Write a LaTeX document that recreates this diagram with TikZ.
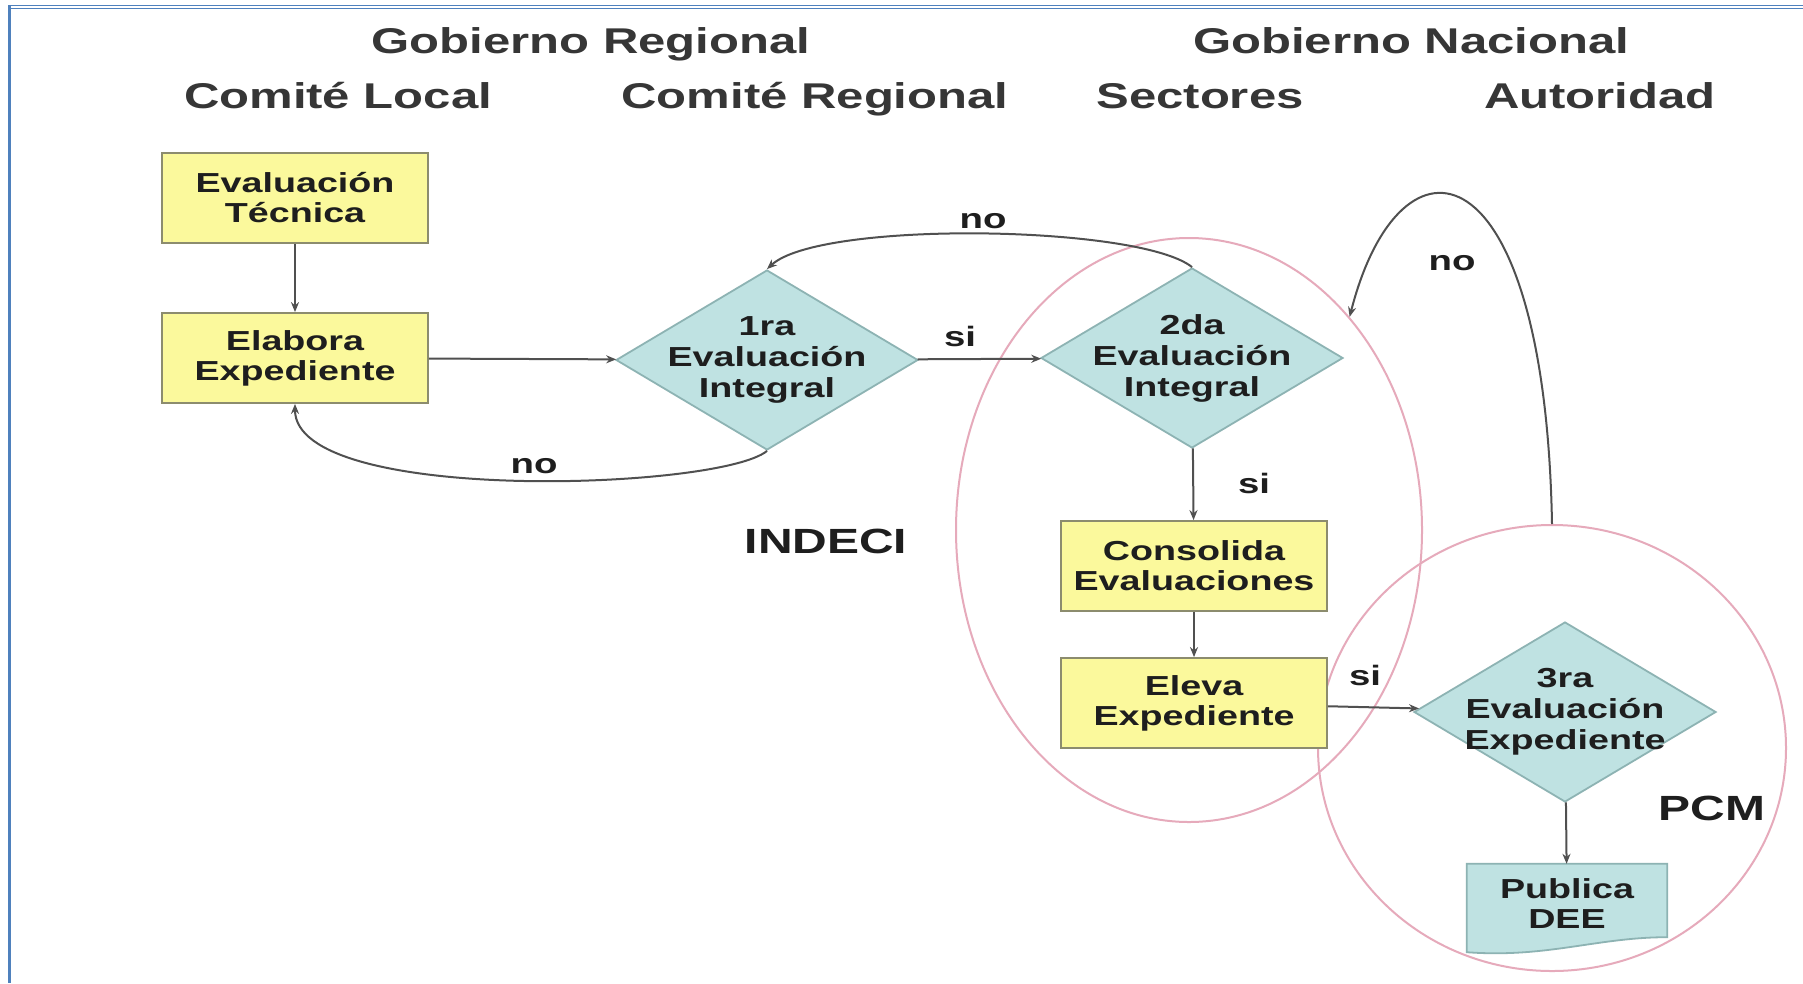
\documentclass[tikz,border=0pt]{standalone}
\usepackage{fontspec}
\setmainfont{Liberation Sans}[FakeStretch=1.37]
\usetikzlibrary{shapes.geometric,arrows.meta,backgrounds}
\definecolor{boxyellow}{HTML}{FBF99C}
\definecolor{boxline}{HTML}{8C8C6E}
\definecolor{diafill}{HTML}{BFE2E2}
\definecolor{dialine}{HTML}{8DB3B3}
\definecolor{pinkline}{HTML}{E6AABB}
\definecolor{lineg}{HTML}{505050}
\definecolor{headcol}{HTML}{363636}
\definecolor{frameblue}{HTML}{4F81BD}
\definecolor{txtdark}{HTML}{1E1E1E}
\begin{document}
\begin{tikzpicture}[x=1pt,y=-1pt,
  header/.style={font=\fontsize{35.8}{40}\selectfont\bfseries, text=headcol, inner sep=0pt, anchor=base},
  bigtag/.style={font=\fontsize{35}{40}\selectfont\bfseries, text=txtdark, inner sep=0pt, anchor=base},
  lbl/.style={font=\fontsize{28}{30}\selectfont\bfseries, text=txtdark, inner sep=0pt, anchor=base},
  ybox/.style={draw=boxline, line width=1.8pt, fill=boxyellow, minimum width=266pt, minimum height=90pt,
    inner sep=0pt, align=center, font=\fontsize{27.5}{30}\selectfont\bfseries, text=txtdark},
  dia/.style={diamond, draw=dialine, line width=1.8pt, fill=diafill, minimum width=302pt, minimum height=180pt,
    inner sep=-40pt, align=center, font=\fontsize{27.5}{31}\selectfont\bfseries, text=txtdark},
  docnode/.style={minimum width=200pt, minimum height=80pt, inner sep=0pt, align=center,
    font=\fontsize{27.5}{30}\selectfont\bfseries, text=txtdark},
  oval/.style={ellipse, draw=pinkline, line width=2pt, inner sep=0pt},
  arrowline/.style={draw=lineg, line width=2pt, -{Stealth[length=10pt,width=8pt,fill=black]}}
]
\useasboundingbox (0,0) rectangle (1803,983);
\begin{scope}[on background layer]
\fill[white] (0,0) rectangle (1803,983);
\end{scope}

% frame
\draw[frameblue, line width=3pt] (9.5,5) -- (9.5,983);
\draw[frameblue, line width=1.5pt] (8,5.5) -- (1803,5.5);
\draw[frameblue, line width=1.5pt] (8,8.5) -- (1803,8.5);

% headers
\node[header] (hgr) at (591,53) {Gobierno Regional};
\node[header] (hgn) at (1411,53) {Gobierno Nacional};
\node[header] (hcl) at (338,108) {Comité Local};
\node[header] (hcr) at (815,108) {Comité Regional};
\node[header] (hse) at (1200,108) {Sectores};
\node[header] (hau) at (1600,108) {Autoridad};

% ellipses
\begin{scope}[on background layer]
\node[oval, minimum width=466pt, minimum height=584pt] (sect) at (1189,530) {};
\node[oval, minimum width=468pt, minimum height=446pt] (pcm) at (1552,748) {};
\end{scope}

% nodes
\node[ybox] (et) at (295,198) {Evaluación\\Técnica};
\node[ybox] (ee) at (295,358) {Elabora\\Expediente};
\node[dia] (p1) at (767,360) {1ra\\Evaluación\\Integral};
\node[dia] (p2) at (1192,358) {2da\\Evaluación\\Integral};
\node[ybox] (cons) at (1194,566) {Consolida\\Evaluaciones};
\node[ybox] (eleva) at (1194,703) {Eleva\\Expediente};
\node[dia] (p3) at (1565,712) {3ra\\Evaluación\\Expediente};
\node[docnode] (pub) at (1567,904) {Publica\\DEE};
\begin{scope}[on background layer]
\path[draw=dialine, fill=diafill, line width=1.8pt]
  (pub.north west) -- (pub.north east) -- ([yshift=7pt]pub.south east)
  .. controls ([xshift=-70pt,yshift=7pt]pub.south east) and ([xshift=80pt,yshift=-14pt]pub.south west)
  .. ([yshift=-8pt]pub.south west) -- cycle;
\end{scope}

% labels
\node[bigtag] (indeci) at (826,553) {INDECI};
\node[bigtag] (pcmlbl) at (1712,820) {PCM};
\node[lbl] (no1) at (534,473) {no};
\node[lbl] (no2) at (983,228) {no};
\node[lbl] (no3) at (1452,270) {no};
\node[lbl] (si1) at (960,346) {si};
\node[lbl] (si2) at (1254,493) {si};
\node[lbl] (si3) at (1365,685) {si};

% connectors
\draw[arrowline] (et) -- (ee);
\draw[arrowline] (ee) -- (p1);
\draw[arrowline] (p1) -- (p2);
\draw[arrowline] (p2) -- (cons);
\draw[arrowline] (cons) -- (eleva);
\draw[arrowline] (eleva) -- (p3);
\draw[arrowline] (p3) -- (pub);
\draw[arrowline] (p1.south) .. controls (720,490) and (295,505) .. (ee.south);
\draw[arrowline] (p2.north) .. controls (1140,225) and (820,220) .. (p1.north);
\draw[arrowline] (pcm.north) .. controls (1545,140) and (1400,120) .. (sect.53);
\end{tikzpicture}
\end{document}
